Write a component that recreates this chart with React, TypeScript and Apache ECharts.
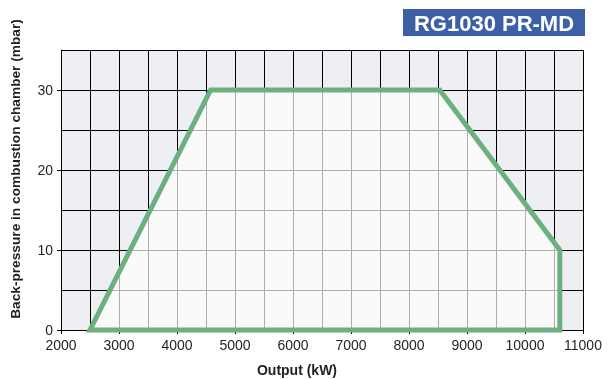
import React, { useEffect, useRef } from "react";
import * as echarts from "echarts";

// Operating range outline: output (kW) vs back-pressure (mbar)
const outputKW = [2500, 4580, 8530, 10600, 10600];
const backPressure = [0, 30, 30, 10, 0];

const xTickValues = [2000, 3000, 4000, 5000, 6000, 7000, 8000, 9000, 10000, 11000];
const yTickValues = [0, 10, 20, 30];

const titleText = "RG1030 PR-MD";
const xAxisTitle = "Output (kW)";
const yAxisTitle = "Back-pressure in combustion chamber (mbar)";

const FONT = "'Liberation Sans', Arial, Helvetica, sans-serif";
const GREEN = "#6cb07f";
const INK = "#231f20";

export default function App() {
  const ref = useRef<HTMLDivElement>(null);

  useEffect(() => {
    if (!ref.current) return;
    const chart = echarts.init(ref.current, null, { renderer: "svg" });
    const points = outputKW.map((x, i) => [x, backPressure[i]]);

    // Primary axes carry ticks and labels; the secondary ones only draw the
    // finer background grid.
    const xMain = {
      type: "value",
      min: 2000,
      max: 11000,
      interval: 1000,
      axisLine: { show: true, lineStyle: { color: "#000", width: 1 } },
      axisTick: { show: true, customValues: xTickValues, length: 4, lineStyle: { color: "#000" } },
      axisLabel: {
        customValues: xTickValues,
        formatter: (v: number) => String(v),
        color: INK,
        fontFamily: FONT,
        fontSize: 14,
        margin: 8,
      },
      splitLine: { show: false },
    };
    const xGrid = {
      type: "value",
      min: 2000,
      max: 11000,
      interval: 500,
      position: "bottom",
      axisLine: { show: false },
      axisTick: { show: false },
      axisLabel: { show: false },
      splitLine: { show: true, lineStyle: { color: "#000", width: 1 } },
    };
    const yMain = {
      type: "value",
      min: 0,
      max: 35,
      interval: 5,
      axisLine: { show: true, lineStyle: { color: "#000", width: 1 } },
      axisTick: { show: true, customValues: yTickValues, length: 4, lineStyle: { color: "#000" } },
      axisLabel: {
        customValues: yTickValues,
        formatter: (v: number) => String(v),
        color: INK,
        fontFamily: FONT,
        fontSize: 14,
        margin: 8,
      },
      splitLine: { show: false },
    };
    const yGrid = {
      type: "value",
      min: 0,
      max: 35,
      interval: 5,
      position: "left",
      axisLine: { show: false },
      axisTick: { show: false },
      axisLabel: { show: false },
      splitLine: { show: true, lineStyle: { color: "#000", width: 1 } },
    };

    chart.setOption({
      animation: false,
      grid: {
        left: 61,
        right: 26,
        top: 50,
        bottom: 49,
        show: true,
        backgroundColor: "#eeeff2",
        borderWidth: 0,
      },
      xAxis: [xMain, xGrid],
      yAxis: [yMain, yGrid],
      graphic: [
        {
          type: "rect",
          left: 403,
          top: 9,
          shape: { width: 182, height: 27 },
          style: { fill: "#3c5fa6" },
        },
        {
          type: "text",
          x: 494,
          y: 23,
          style: {
            text: titleText,
            fill: "#ffffff",
            font: `bold 22px ${FONT}`,
            textAlign: "center",
            textVerticalAlign: "middle",
          },
        },
        {
          type: "text",
          x: 297,
          y: 370,
          style: {
            text: xAxisTitle,
            fill: INK,
            font: `bold 14px ${FONT}`,
            textAlign: "center",
            textVerticalAlign: "middle",
          },
        },
        {
          type: "text",
          x: 15,
          y: 169,
          rotation: Math.PI / 2,
          style: {
            text: yAxisTitle,
            fill: INK,
            font: `bold 13.7px ${FONT}`,
            textAlign: "center",
            textVerticalAlign: "middle",
          },
        },
      ],
      series: [
        {
          type: "custom",
          xAxisIndex: 0,
          yAxisIndex: 0,
          data: points,
          z: 5,
          renderItem: (params: any, api: any) => {
            if (params.dataIndex !== 0) return null;
            const pts = points.map((p) => api.coord(p));
            return {
              type: "polygon",
              shape: { points: pts },
              style: {
                fill: "rgba(255,255,255,0.68)",
                stroke: GREEN,
                lineWidth: 5,
                lineJoin: "miter",
              },
            };
          },
        },
      ],
    });

    return () => chart.dispose();
  }, []);

  return (
    <div
      ref={ref}
      style={{ position: "fixed", left: 0, top: 0, width: 609, height: 379 }}
    />
  );
}
